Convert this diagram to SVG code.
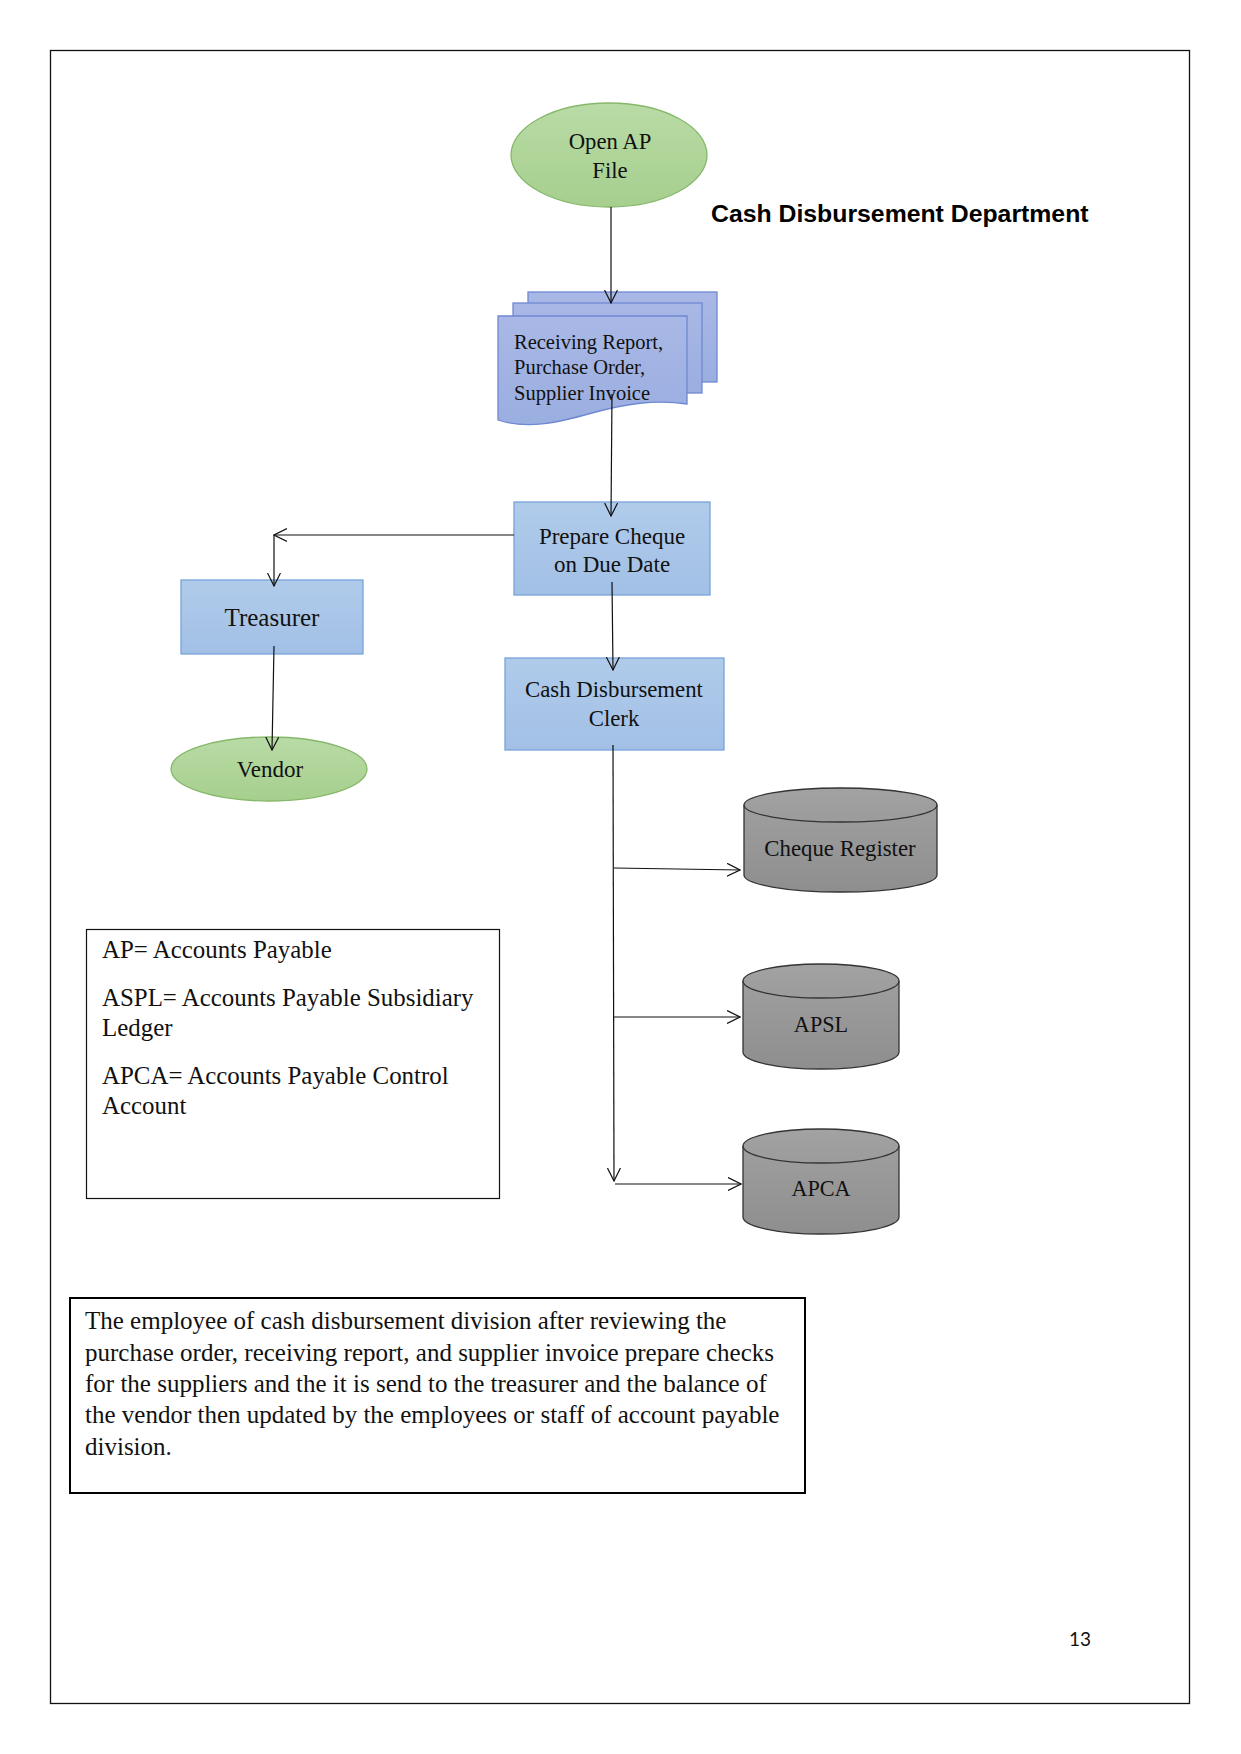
<svg xmlns="http://www.w3.org/2000/svg" width="1241" height="1754" viewBox="0 0 1241 1754">
<defs>
<style>
.lbl{font-family:"Liberation Serif","Times New Roman",serif;fill:#111;}
.conn{fill:none;stroke:#111;stroke-width:1.2;}
.green{fill:url(#gGreen);stroke:#86b86a;stroke-width:1.3;}
.blue{fill:url(#gBlue);stroke:#79a3da;stroke-width:1.3;}
.doc{fill:url(#gDoc);stroke:#6f88d2;stroke-width:1.3;}
.cyl{fill:url(#gCyl);stroke:#333;stroke-width:1.3;}
</style>
<linearGradient id="gGreen" x1="0" y1="0" x2="0" y2="1"><stop offset="0" stop-color="#b9dba6"/><stop offset="1" stop-color="#a6cf8e"/></linearGradient>
<linearGradient id="gBlue" x1="0" y1="0" x2="0" y2="1"><stop offset="0" stop-color="#b0cbea"/><stop offset="1" stop-color="#a2c0e6"/></linearGradient>
<linearGradient id="gDoc" x1="0" y1="0" x2="0" y2="1"><stop offset="0" stop-color="#a9b8e6"/><stop offset="1" stop-color="#9aaee0"/></linearGradient>
<linearGradient id="gCyl" x1="0" y1="0" x2="0" y2="1"><stop offset="0" stop-color="#a2a2a2"/><stop offset="1" stop-color="#8e8e8e"/></linearGradient>
<marker id="arr" viewBox="0 0 14 14" refX="13" refY="7" markerWidth="14" markerHeight="14" markerUnits="userSpaceOnUse" orient="auto">
<path d="M0,0.5 L13,7 L0,13.5" fill="none" stroke="#111" stroke-width="1.2"/>
</marker>
</defs>
<rect width="1241" height="1754" fill="#fff"/>
<rect x="50.5" y="50.5" width="1139" height="1653" fill="none" stroke="#111" stroke-width="1.3"/>

<text x="711" y="222" font-family="'Liberation Sans',Arial,sans-serif" font-weight="bold" font-size="24.8" fill="#000">Cash Disbursement Department</text>

<g id="open-ap">
<ellipse class="green" cx="609" cy="155" rx="98" ry="52"/>
<text class="lbl" x="610" y="149" font-size="22.7" text-anchor="middle">Open AP</text>
<text class="lbl" x="610" y="178" font-size="22.7" text-anchor="middle">File</text>
</g>

<g id="documents">
<rect class="doc" x="528" y="292" width="189" height="90"/>
<rect class="doc" x="513" y="303" width="189" height="90"/>
<path class="doc" d="M498,316 L687,316 L687,404 C655,399 625,404 592,413 C560,422 528,430 498,420 Z"/>
<text class="lbl" x="514" y="349" font-size="20.5">Receiving Report,</text>
<text class="lbl" x="514" y="374" font-size="20.5">Purchase Order,</text>
<text class="lbl" x="514" y="400" font-size="20.5">Supplier Invoice</text>
</g>

<g id="prepare-cheque">
<rect class="blue" x="514" y="502" width="196" height="93"/>
<text class="lbl" x="612" y="544" font-size="23" text-anchor="middle">Prepare Cheque</text>
<text class="lbl" x="612" y="572" font-size="23" text-anchor="middle">on Due Date</text>
</g>

<g id="treasurer">
<rect class="blue" x="181" y="580" width="182" height="74"/>
<text class="lbl" x="272" y="626" font-size="25" text-anchor="middle">Treasurer</text>
</g>

<g id="vendor">
<ellipse class="green" cx="269" cy="769" rx="98" ry="32"/>
<text class="lbl" x="270" y="777" font-size="23" text-anchor="middle">Vendor</text>
</g>

<g id="clerk">
<rect class="blue" x="505" y="658" width="219" height="92"/>
<text class="lbl" x="614" y="697" font-size="22.8" text-anchor="middle">Cash Disbursement</text>
<text class="lbl" x="614" y="726" font-size="22.8" text-anchor="middle">Clerk</text>
</g>

<g id="cheque-register">
<path class="cyl" d="M744,805 A96.5,17 0 0 1 937,805 L937,875 A96.5,17 0 0 1 744,875 Z"/>
<path d="M744,805 A96.5,17 0 0 0 937,805" fill="none" stroke="#333" stroke-width="1.3"/>
<text class="lbl" x="840" y="856" font-size="22.8" text-anchor="middle">Cheque Register</text>
</g>

<g id="apsl">
<path class="cyl" d="M743,981 A78,17 0 0 1 899,981 L899,1052 A78,17 0 0 1 743,1052 Z"/>
<path d="M743,981 A78,17 0 0 0 899,981" fill="none" stroke="#333" stroke-width="1.3"/>
<text class="lbl" x="821" y="1032" font-size="22.2" text-anchor="middle">APSL</text>
</g>

<g id="apca">
<path class="cyl" d="M743,1146 A78,17 0 0 1 899,1146 L899,1217 A78,17 0 0 1 743,1217 Z"/>
<path d="M743,1146 A78,17 0 0 0 899,1146" fill="none" stroke="#333" stroke-width="1.3"/>
<text class="lbl" x="821" y="1196" font-size="22.2" text-anchor="middle">APCA</text>
</g>

<g id="connectors">
<line class="conn" x1="611" y1="207" x2="611" y2="303" marker-end="url(#arr)"/>
<line class="conn" x1="612" y1="394" x2="611" y2="516" marker-end="url(#arr)"/>
<line class="conn" x1="514" y1="535" x2="274" y2="535" marker-end="url(#arr)"/>
<line class="conn" x1="274" y1="535" x2="274" y2="586" marker-end="url(#arr)"/>
<line class="conn" x1="274" y1="646" x2="272" y2="750" marker-end="url(#arr)"/>
<line class="conn" x1="612" y1="582" x2="613" y2="670" marker-end="url(#arr)"/>
<line class="conn" x1="613" y1="745" x2="614" y2="1181" marker-end="url(#arr)"/>
<line class="conn" x1="614" y1="868" x2="740" y2="870" marker-end="url(#arr)"/>
<line class="conn" x1="614" y1="1017" x2="740" y2="1017" marker-end="url(#arr)"/>
<line class="conn" x1="615" y1="1184" x2="741" y2="1184" marker-end="url(#arr)"/>
</g>

<g id="legend">
<rect x="86.5" y="929.5" width="413" height="269" fill="#fff" stroke="#111" stroke-width="1.2"/>
<text class="lbl" x="102" y="958" font-size="24.9">AP= Accounts Payable</text>
<text class="lbl" x="102" y="1006" font-size="24.9">ASPL= Accounts Payable Subsidiary</text>
<text class="lbl" x="102" y="1036" font-size="24.9">Ledger</text>
<text class="lbl" x="102" y="1084" font-size="24.9">APCA= Accounts Payable Control</text>
<text class="lbl" x="102" y="1114" font-size="24.9">Account</text>
</g>

<g id="description">
<rect x="70" y="1298" width="735" height="195" fill="#fff" stroke="#000" stroke-width="2"/>
<text class="lbl" x="85" y="1329" font-size="25">The employee of cash disbursement division after reviewing the</text>
<text class="lbl" x="85" y="1361" font-size="25">purchase order, receiving report, and supplier invoice prepare checks</text>
<text class="lbl" x="85" y="1392" font-size="25">for the suppliers and the it is send to the treasurer and the balance of</text>
<text class="lbl" x="85" y="1423" font-size="25">the vendor then updated by the employees or staff of account payable</text>
<text class="lbl" x="85" y="1455" font-size="25">division.</text>
</g>

<text x="1069" y="1646" font-family="Lato,'Liberation Sans',sans-serif" font-size="19" fill="#111">13</text>
</svg>
